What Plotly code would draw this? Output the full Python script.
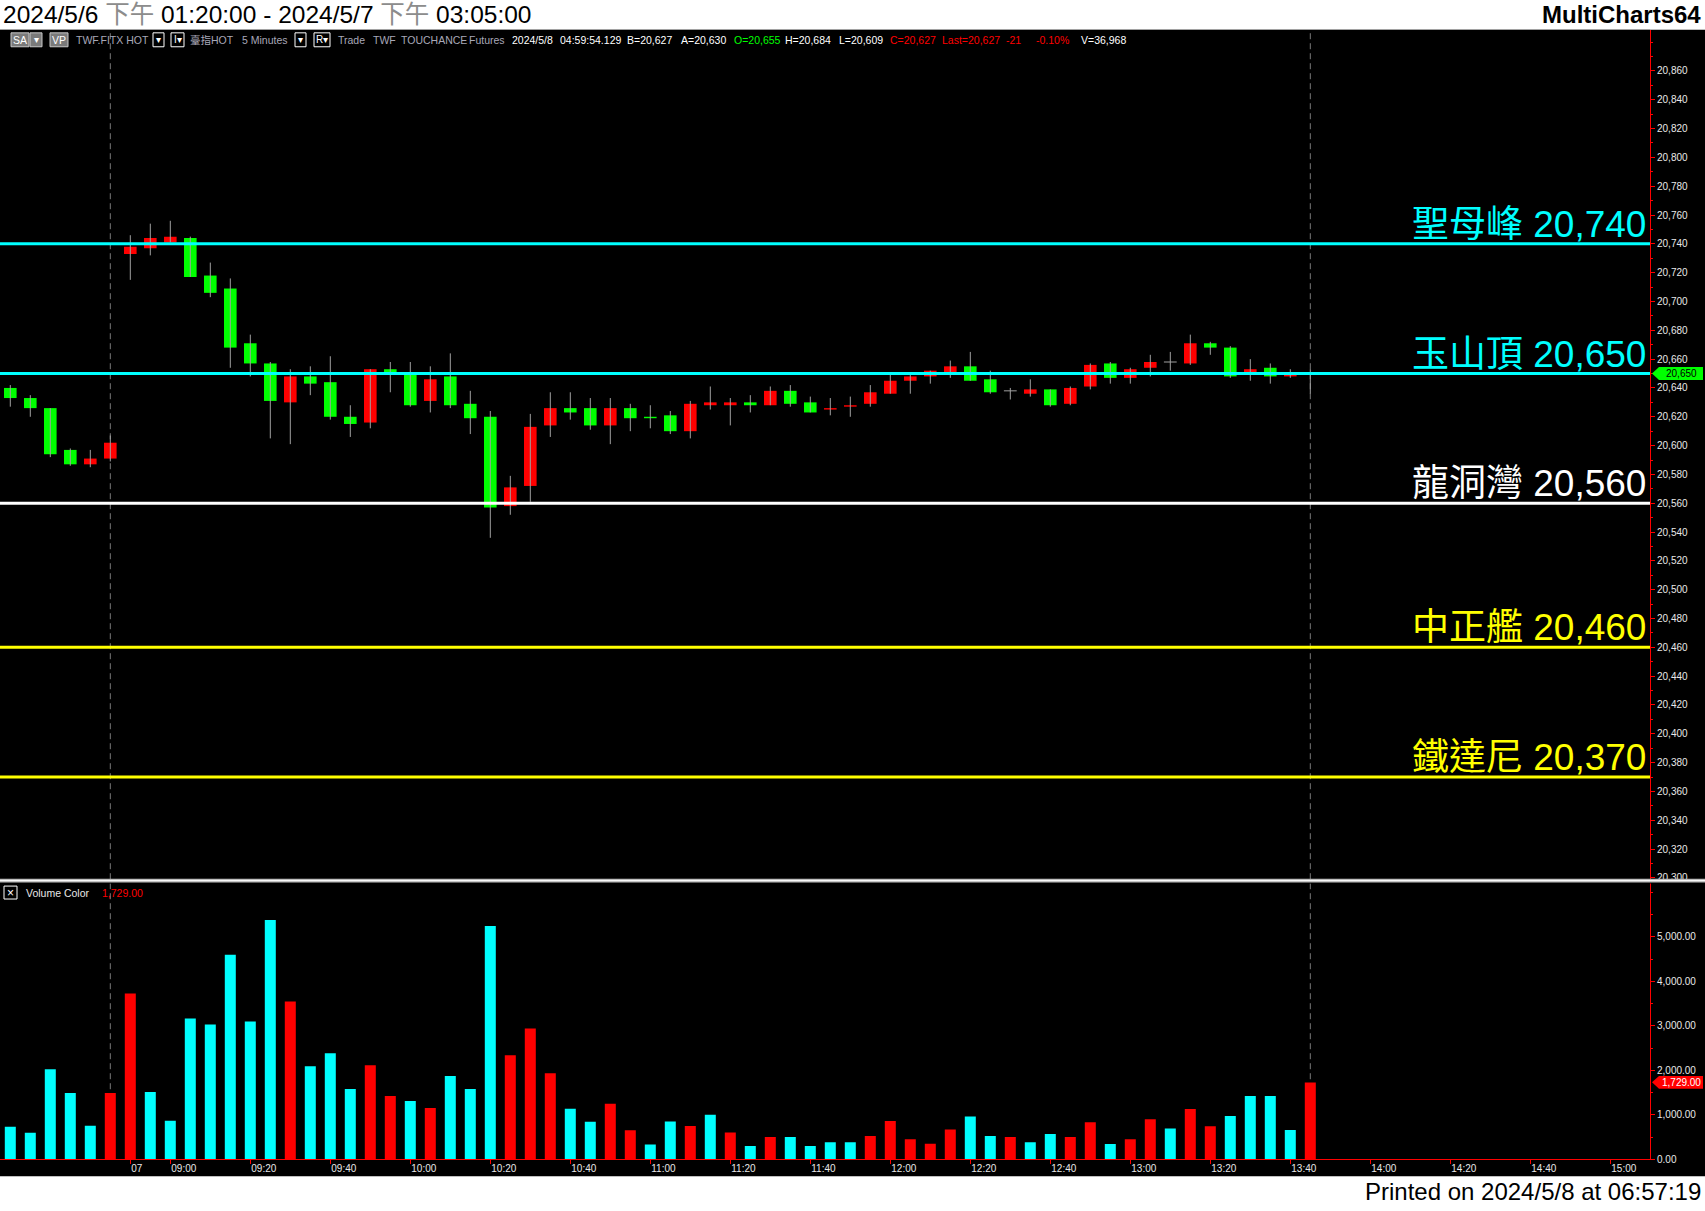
import plotly.graph_objects as go
import numpy as np

W, H = 1705, 1211

# ---------------- data (5-minute bars, TWF.FITX HOT) ----------------
opens = [20640, 20633, 20626, 20597, 20587, 20591, 20733, 20737, 20741, 20744,
         20718, 20709, 20671, 20657, 20630, 20648, 20644, 20620, 20616, 20653,
         20651, 20631, 20648, 20629, 20620, 20558, 20572, 20614, 20626, 20626,
         20614, 20626, 20620, 20621, 20610, 20628, 20628, 20630, 20628, 20638,
         20630, 20625, 20627, 20629, 20636, 20645, 20648, 20651, 20655, 20646,
         20638, 20636, 20639, 20629, 20641, 20657, 20647, 20654, 20658, 20657,
         20671, 20668, 20651, 20654, 20648, 20649]
highs = [20642, 20635, 20626, 20598, 20597, 20607, 20746, 20754, 20756, 20745,
         20727, 20716, 20677, 20658, 20653, 20655, 20662, 20628, 20653, 20658,
         20658, 20655, 20664, 20638, 20624, 20579, 20622, 20637, 20637, 20633,
         20633, 20629, 20628, 20624, 20631, 20641, 20633, 20635, 20641, 20642,
         20634, 20633, 20634, 20642, 20649, 20650, 20652, 20659, 20665, 20652,
         20640, 20646, 20639, 20641, 20657, 20658, 20654, 20663, 20665, 20677,
         20672, 20669, 20660, 20657, 20653, 20653]
lows = [20627, 20620, 20592, 20586, 20585, 20589, 20715, 20732, 20741, 20717,
        20703, 20654, 20648, 20605, 20601, 20635, 20618, 20606, 20612, 20637,
        20627, 20623, 20626, 20608, 20536, 20552, 20561, 20606, 20618, 20611,
        20601, 20610, 20612, 20608, 20605, 20625, 20614, 20623, 20628, 20627,
        20623, 20621, 20620, 20627, 20636, 20636, 20643, 20647, 20645, 20636,
        20632, 20634, 20627, 20628, 20639, 20643, 20643, 20648, 20652, 20656,
        20663, 20647, 20645, 20643, 20647, 20636]
closes = [20633, 20626, 20594, 20587, 20591, 20602, 20738, 20744, 20745, 20717,
          20706, 20668, 20657, 20631, 20648, 20643, 20620, 20615, 20653, 20651,
          20628, 20646, 20628, 20619, 20557, 20571, 20613, 20626, 20623, 20614,
          20626, 20619, 20619, 20610, 20629, 20630, 20630, 20628, 20638, 20629,
          20623, 20626, 20628, 20637, 20645, 20648, 20652, 20655, 20645, 20637,
          20638, 20639, 20628, 20640, 20656, 20647, 20653, 20658, 20658, 20671,
          20668, 20648, 20653, 20648, 20649, 20650]
volumes = [730, 596, 2027, 1490, 753, 1490, 3726, 1513, 864, 3167,
           3033, 4598, 3100, 5380, 3547, 2094, 2385, 1580, 2116, 1423,
           1311, 1155, 1870, 1580, 5246, 2340, 2943, 1937, 1133, 842,
           1250, 650, 330, 850, 750, 1000, 600, 300, 500, 500,
           300, 380, 380, 520, 860, 450, 350, 670, 960, 520,
           500, 380, 570, 500, 830, 340, 450, 900, 690, 1130,
           740, 970, 1420, 1420, 660, 1729]
vol_dir = ['dn', 'dn', 'dn', 'dn', 'dn', 'up', 'up', 'dn', 'dn', 'dn',
           'dn', 'dn', 'dn', 'dn', 'up', 'dn', 'dn', 'dn', 'up', 'up',
           'dn', 'up', 'dn', 'dn', 'dn', 'up', 'up', 'up', 'dn', 'dn',
           'up', 'up', 'dn', 'dn', 'up', 'dn', 'up', 'dn', 'up', 'dn',
           'dn', 'dn', 'dn', 'up', 'up', 'up', 'up', 'up', 'dn', 'dn',
           'up', 'dn', 'dn', 'up', 'up', 'dn', 'up', 'up', 'dn', 'up',
           'up', 'dn', 'dn', 'dn', 'dn', 'up']
session_end_bars = [5, 65]
tick_pos = [6, 8, 12, 16, 20, 24, 28, 32, 36, 40, 44, 48, 52, 56, 60, 64, 68, 72, 76, 80]
tick_text = ["07", "09:00", "09:20", "09:40", "10:00", "10:20", "10:40", "11:00", "11:20",
             "11:40", "12:00", "12:20", "12:40", "13:00", "13:20", "13:40", "14:00", "14:20",
             "14:40", "15:00"]
price_ticks = [20300, 20320, 20340, 20360, 20380, 20400, 20420, 20440, 20460, 20480,
               20500, 20520, 20540, 20560, 20580, 20600, 20620, 20640, 20660, 20680,
               20700, 20720, 20740, 20760, 20780, 20800, 20820, 20840, 20860]
volume_ticks = [0, 1000, 2000, 3000, 4000, 5000]
level_names = ["聖母峰", "玉山頂", "龍洞灣", "中正艦", "鐵達尼"]
level_values = [20740, 20650, 20560, 20460, 20370]
level_kind = ["resist", "resist", "pivot", "support", "support"]
last_volume = 1729.00

# ---------------- styling ----------------
FONT = "Liberation Sans, Arial, Noto Sans CJK TC, sans-serif"
UP, DN = "#FF0000", "#00FF00"
VUP, VDN = "#FF0000", "#00FFFF"
LEVEL_COLORS = {"resist": "#00FFFF", "pivot": "#FFFFFF", "support": "#FFFF00"}

# pixel layout
TOP, SEP1, SEP2, BOT, BLACK_BOT = 30, 883, 887, 1165, 1182
XR = 1650

def px(x):
    return x / W

def py(y):
    return 1 - y / H

n = len(opens)
idx = np.arange(n)
o, h, l, c = map(np.array, (opens, highs, lows, closes))
body_base = np.minimum(o, c)
body_h = np.abs(c - o)
body_col = [UP if cc > oo else DN for oo, cc in zip(o, c)]

# wick segments + doji crosses
wx, wy = [], []
for i in range(n):
    wx += [i, i, None]
    wy += [l[i], h[i], None]
    if o[i] == c[i]:
        wx += [i - 0.32, i + 0.32, None]
        wy += [o[i], o[i], None]

price_range = [20299.5, 20888.5]
vol_range = [0, 6223]
x_range = [-0.515, 81.985]

fig = go.Figure()
fig.add_trace(go.Scatter(x=wx, y=wy, mode="lines", line=dict(color="#A0A0A0", width=1),
                         hoverinfo="skip", xaxis="x", yaxis="y"))
fig.add_trace(go.Bar(x=idx, y=body_h, base=body_base, width=0.63,
                     marker=dict(color=body_col, line=dict(width=0)),
                     xaxis="x", yaxis="y", hoverinfo="skip"))
fig.add_trace(go.Bar(x=idx, y=volumes, width=0.55,
                     marker=dict(color=[VUP if d == 'up' else VDN for d in vol_dir], line=dict(width=0)),
                     xaxis="x2", yaxis="y2", hoverinfo="skip"))

shapes = []
# black chart background
shapes.append(dict(type="rect", xref="paper", yref="paper", x0=0, x1=1, y0=py(BLACK_BOT), y1=py(TOP),
                   fillcolor="black", line=dict(width=0), layer="below"))
# session break dashed lines
for b in session_end_bars:
    shapes.append(dict(type="line", xref="x", yref="paper", x0=b, x1=b, y0=py(BOT), y1=py(TOP),
                       line=dict(color="#7A7A7A", width=1, dash="6px,4px"), layer="below"))
# level lines
for v, k in zip(level_values, level_kind):
    shapes.append(dict(type="line", xref="paper", yref="y", x0=0, x1=px(XR), y0=v, y1=v,
                       line=dict(color=LEVEL_COLORS[k], width=3), layer="above"))
# pane separator (drawn over the clipped bottom price label)
shapes.append(dict(type="rect", xref="paper", yref="paper", x0=0, x1=1, y0=py(SEP2 + 1), y1=py(SEP1 + 1),
                   fillcolor="black", line=dict(width=0), layer="above"))
shapes.append(dict(type="rect", xref="paper", yref="paper", x0=0, x1=1, y0=py(SEP2), y1=py(SEP1),
                   fillcolor="#BEBEBE", line=dict(width=0), layer="above"))
shapes.append(dict(type="line", xref="paper", yref="paper", x0=0, x1=1, y0=py(885), y1=py(885),
                   line=dict(color="#FFFFFF", width=1), layer="above"))

ann = []

def txt(s, x, y, color, size=10.5, xanchor="left", **kw):
    d = dict(text=s, x=px(x), y=py(y), xref="paper", yref="paper", xanchor=xanchor,
             yanchor="middle", showarrow=False, font=dict(family=FONT, size=size, color=color))
    d.update(kw)
    ann.append(d)

# level labels
for name, v, k in zip(level_names, level_values, level_kind):
    ann.append(dict(text=f"{name} {v:,}", x=px(XR - 2), y=v, xref="paper", yref="y",
                    xanchor="right", yanchor="bottom", yshift=-3, showarrow=False,
                    font=dict(family=FONT, size=37, color=LEVEL_COLORS[k])))

# header / footer
txt('2024/5/6 <span style="color:#8C8C8C">下午</span> 01:20:00 - 2024/5/7 '
    '<span style="color:#8C8C8C">下午</span> 03:05:00', 1, 15, "black", size=24.5)
txt("<b>MultiCharts64</b>", 1703, 15, "black", size=24, xanchor="right")
txt("Printed on 2024/5/8 at 06:57:19", 1703, 1197, "black", size=24, xanchor="right")

# top status row boxes
def box(x0, x1, fill, border):
    shapes.append(dict(type="rect", xref="paper", yref="paper", x0=px(x0), x1=px(x1),
                       y0=py(47), y1=py(33), fillcolor=fill, line=dict(color=border, width=1),
                       layer="above"))

box(11, 29, "#7A7A7A", "#C8C8C8")
box(30, 42, "#7A7A7A", "#C8C8C8")
box(50, 68, "#7A7A7A", "#C8C8C8")
box(153, 164, "black", "#FFFFFF")
box(171, 184, "black", "#FFFFFF")
box(295, 306, "black", "#FFFFFF")
box(314, 330, "black", "#FFFFFF")
txt("SA", 20, 40, "#FFFFFF", xanchor="center")
txt("▾", 36, 40, "#FFFFFF", size=10, xanchor="center")
txt("VP", 59, 40, "#FFFFFF", xanchor="center")
txt("▾", 158.5, 40, "#FFFFFF", size=10, xanchor="center")
txt("I▾", 177.5, 40, "#FFFFFF", size=10, xanchor="center")
txt("▾", 300.5, 40, "#FFFFFF", size=10, xanchor="center")
txt("R▾", 322, 40, "#FFFFFF", size=10, xanchor="center")
GRAY = "#A8A8B8"
for s, x in [("TWF.FITX HOT", 74), ("臺指HOT", 188), ("5 Minutes", 240), ("Trade", 336),
             ("TWF", 371), ("TOUCHANCE", 399), ("Futures", 467)]:
    txt(s, x, 40, GRAY)
for s, x, col in [("2024/5/8", 510, "#FFFFFF"), ("04:59:54.129", 558, "#FFFFFF"),
                  ("B=20,627", 625, "#FFFFFF"), ("A=20,630", 679, "#FFFFFF"),
                  ("O=20,655", 732, "#00FF00"), ("H=20,684", 783, "#FFFFFF"),
                  ("L=20,609", 837, "#FFFFFF"), ("C=20,627", 888, "#FF0000"),
                  ("Last=20,627", 940, "#FF0000"), ("-21", 1004, "#FF0000"),
                  ("-0.10%", 1034, "#FF0000"), ("V=36,968", 1079, "#FFFFFF")]:
    txt(s, x, 40, col)

# volume pane legend
shapes.append(dict(type="rect", xref="paper", yref="paper", x0=px(4), x1=px(17), y0=py(903.5),
                   y1=py(890.5), fillcolor="black", line=dict(color="#FFFFFF", width=1), layer="above"))
txt("×", 10.5, 897, "#FFFFFF", size=12, xanchor="center")
txt("Volume Color", 24, 897, "#E8E8E8")
txt(f"{last_volume:,.2f}", 100, 897, "#FF0000")

# last-value markers on the right axes
def ypx_price(p):
    return TOP + (price_range[1] - p) / (price_range[1] - price_range[0]) * (SEP1 - TOP)

def ypx_vol(v):
    return SEP2 + (vol_range[1] - v) / (vol_range[1] - vol_range[0]) * (BOT - SEP2)

def marker(yc, fill, label, tcol):
    path = (f"M {px(1652)},{py(yc)} L {px(1659)},{py(yc - 6.5)} L {px(1703)},{py(yc - 6.5)} "
            f"L {px(1703)},{py(yc + 6.5)} L {px(1659)},{py(yc + 6.5)} Z")
    shapes.append(dict(type="path", xref="paper", yref="paper", path=path, fillcolor=fill,
                       line=dict(width=0), layer="above"))
    txt(label, 1681, yc, tcol, size=10, xanchor="center")

marker(ypx_price(closes[-1]), "#00FF00", f"{closes[-1]:,}", "#000000")
marker(ypx_vol(volumes[-1]), "#FF0000", f"{volumes[-1]:,.2f}", "#FFFFFF")

axis_font = dict(family=FONT, size=10, color="#E8E8E8")
fig.update_layout(
    width=W, height=H, margin=dict(l=0, r=0, t=0, b=0),
    paper_bgcolor="white", plot_bgcolor="black",
    showlegend=False, hovermode=False, barmode="overlay",
    shapes=shapes, annotations=ann,
    xaxis=dict(domain=[0, px(XR)], range=x_range, anchor="y", matches="x2",
               showticklabels=False, showgrid=False, zeroline=False, showline=False, ticks=""),
    yaxis=dict(domain=[py(SEP1), py(TOP)], range=price_range, anchor="x", side="right",
               showgrid=False, zeroline=False, showline=True, linecolor="#FF0000", linewidth=1,
               ticks="outside", ticklen=4, tickcolor="#FF0000", tickwidth=1,
               tickmode="array", tickvals=price_ticks, tickformat=",d", tickfont=axis_font,
               minor=dict(ticks="outside", ticklen=2, tickcolor="#FF0000", dtick=10,
                          tick0=20300, showgrid=False)),
    xaxis2=dict(domain=[0, px(XR)], range=x_range, anchor="y2",
                tickmode="array", tickvals=tick_pos, ticktext=tick_text,
                ticks="outside", ticklen=4, tickcolor="#FF0000", tickwidth=1,
                showline=True, linecolor="#FF0000", linewidth=1,
                showgrid=False, zeroline=False, tickfont=axis_font,
                ticklabelposition="outside right"),
    yaxis2=dict(domain=[py(BOT), py(SEP2)], range=vol_range, anchor="x2", side="right",
                showgrid=False, zeroline=False, showline=True, linecolor="#FF0000", linewidth=1,
                ticks="outside", ticklen=4, tickcolor="#FF0000", tickwidth=1,
                tickmode="array", tickvals=volume_ticks, tickformat=",.2f", tickfont=axis_font,
                minor=dict(ticks="outside", ticklen=2, tickcolor="#FF0000", dtick=500,
                           tick0=0, showgrid=False)),
)

fig.write_html("out.html", config={"displayModeBar": False, "staticPlot": True},
               post_script="document.body.style.margin='0';document.body.style.padding='0';"
                           "document.documentElement.style.overflow='hidden';")
